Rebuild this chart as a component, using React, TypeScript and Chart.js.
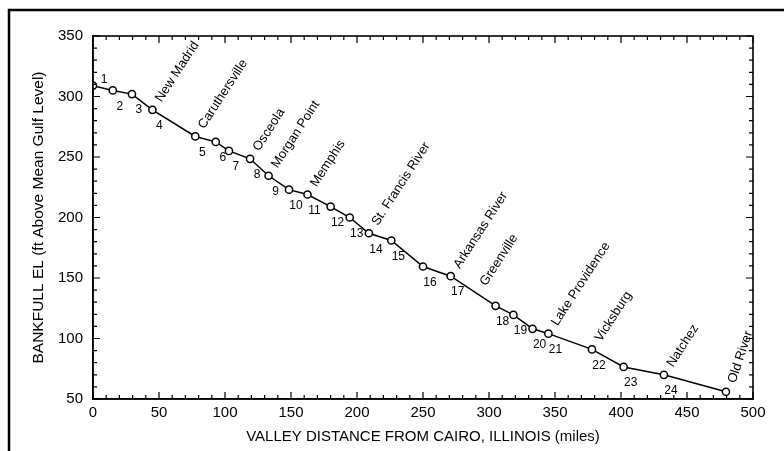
import React, { useEffect, useRef } from "react";
import { Chart, registerables } from "chart.js";

Chart.register(...registerables);

// Valley distance from Cairo (miles) and bankfull elevation (ft) of each reach boundary
const miles = [0, 15, 29.5, 45, 77.5, 93, 103, 119, 133, 148.5, 162.5, 180, 194.5, 209, 226, 250, 271, 305, 318.5, 333, 345, 378, 402, 432.5, 479.5];
const elevation = [309, 305, 302, 289, 267, 262.5, 255, 248.5, 234.5, 223, 219, 209, 200, 187, 181, 159.5, 151.5, 127, 119.5, 108, 104, 91, 76.5, 70, 56];

// Reach numbers (1..24)
const reachLabels = ["1", "2", "3", "4", "5", "6", "7", "8", "9", "10", "11", "12", "13", "14", "15", "16", "17", "18", "19", "20", "21", "22", "23", "24"];

// Towns / confluences along the river
const cityNames = ["New Madrid", "Caruthersville", "Osceola", "Morgan Point", "Memphis", "St. Francis River", "Arkansas River", "Greenville", "Lake Providence", "Vicksburg", "Natchez", "Old River"];
const cityMiles = [45, 77.5, 119, 133, 162.5, 209, 271, 291, 345, 378, 432.5, 479.5];

const xTitle = "VALLEY DISTANCE FROM CAIRO, ILLINOIS (miles)";
const yTitle = "BANKFULL EL (ft Above Mean Gulf Level)";

const FONT = "'Liberation Sans', Arial, Helvetica, sans-serif";

function interp(m: number): number {
  for (let i = 0; i < miles.length - 1; i++) {
    if (m >= miles[i] && m <= miles[i + 1]) {
      const t = (m - miles[i]) / (miles[i + 1] - miles[i]);
      return elevation[i] + t * (elevation[i + 1] - elevation[i]);
    }
  }
  return elevation[elevation.length - 1];
}

const decorPlugin = {
  id: "decor",
  beforeDraw(chart: any) {
    const ctx = chart.ctx;
    ctx.save();
    ctx.fillStyle = "#fff";
    ctx.fillRect(0, 0, chart.width, chart.height);
    // figure frame (top and left)
    ctx.strokeStyle = "#000";
    ctx.lineWidth = 2.5;
    ctx.beginPath();
    ctx.moveTo(9, chart.height + 5);
    ctx.lineTo(9, 10);
    ctx.lineTo(chart.width + 5, 10);
    ctx.stroke();
    ctx.restore();
  },
  afterDraw(chart: any) {
    const ctx = chart.ctx;
    const xs = chart.scales.x;
    const ys = chart.scales.y;
    const a = chart.chartArea;
    ctx.save();
    ctx.strokeStyle = "#000";
    ctx.lineWidth = 1.6;
    ctx.strokeRect(a.left, a.top, a.right - a.left, a.bottom - a.top);
    ctx.lineWidth = 1.2;
    ctx.beginPath();
    for (let v = 0; v <= 500; v += 10) {
      const px = xs.getPixelForValue(v);
      const len = v % 50 === 0 ? 7 : 4;
      ctx.moveTo(px, a.bottom);
      ctx.lineTo(px, a.bottom - len);
      ctx.moveTo(px, a.top);
      ctx.lineTo(px, a.top + len);
    }
    for (let v = 50; v <= 350; v += 10) {
      const py = ys.getPixelForValue(v);
      const len = v % 50 === 0 ? 7 : 4;
      ctx.moveTo(a.left, py);
      ctx.lineTo(a.left + len, py);
      ctx.moveTo(a.right, py);
      ctx.lineTo(a.right - len, py);
    }
    ctx.stroke();

    // reach numbers
    ctx.fillStyle = "#000";
    ctx.font = `12px ${FONT}`;
    ctx.textAlign = "center";
    ctx.textBaseline = "middle";
    reachLabels.forEach((lab, i) => {
      const px = xs.getPixelForValue(miles[i]);
      const py = ys.getPixelForValue(elevation[i]);
      if (i === 0) ctx.fillText(lab, px + 11, py - 6);
      else ctx.fillText(lab, px + 7, py + 16);
    });

    // city names, rotated
    ctx.font = `13px ${FONT}`;
    ctx.textAlign = "left";
    ctx.textBaseline = "middle";
    cityNames.forEach((name, i) => {
      const px = xs.getPixelForValue(cityMiles[i]);
      const py = ys.getPixelForValue(interp(cityMiles[i]));
      const x0 = px + 6;
      const w = ctx.measureText(name).width;
      let ang = (57 * Math.PI) / 180;
      const room = a.right - x0 - 4;
      if (Math.cos(ang) * w > room) ang = Math.acos(Math.max(0, room / w));
      ctx.save();
      ctx.translate(x0, py - 9);
      ctx.rotate(-ang);
      ctx.fillText(name, 0, 0);
      ctx.restore();
    });
    ctx.restore();
  },
};

export default function App() {
  const ref = useRef<HTMLCanvasElement | null>(null);
  useEffect(() => {
    document.body.style.margin = "0";
    const canvas = ref.current;
    if (!canvas) return;
    const chart = new Chart(canvas, {
      type: "line",
      data: {
        datasets: [
          {
            data: miles.map((m, i) => ({ x: m, y: elevation[i] })),
            borderColor: "#000",
            borderWidth: 1.5,
            backgroundColor: "#fff",
            pointRadius: 3.6,
            pointBorderWidth: 1.5,
            pointBorderColor: "#000",
            pointBackgroundColor: "#fff",
            tension: 0,
          },
        ],
      },
      options: {
        responsive: false,
        animation: false,
        events: [],
        layout: { padding: { left: 0, top: 36, right: 31, bottom: 0 } },
        plugins: { legend: { display: false }, tooltip: { enabled: false } },
        scales: {
          x: {
            type: "linear",
            min: 0,
            max: 500,
            grid: { display: false, drawTicks: false },
            border: { display: true, color: "#000", width: 1.6 },
            ticks: { stepSize: 50, padding: 5, color: "#000", font: { family: FONT, size: 15 }, maxRotation: 0 },
            title: { display: true, text: xTitle, color: "#000", font: { family: FONT, size: 15 }, padding: { top: 5, bottom: 5 } },
            afterFit: (s: any) => { s.height = 52; },
          },
          y: {
            type: "linear",
            min: 50,
            max: 350,
            grid: { display: false, drawTicks: false },
            border: { display: true, color: "#000", width: 1.6 },
            ticks: { stepSize: 50, padding: 10, color: "#000", font: { family: FONT, size: 15 } },
            title: { display: true, text: yTitle, color: "#000", font: { family: FONT, size: 15.5 }, padding: { top: 29, bottom: 29 } },
            afterFit: (s: any) => { s.width = 93; },
          },
        },
      },
      plugins: [decorPlugin],
    });
    return () => chart.destroy();
  }, []);
  return (
    <canvas
      ref={ref}
      width={784}
      height={451}
      style={{ display: "block", position: "fixed", left: 0, top: 0 }}
    />
  );
}
